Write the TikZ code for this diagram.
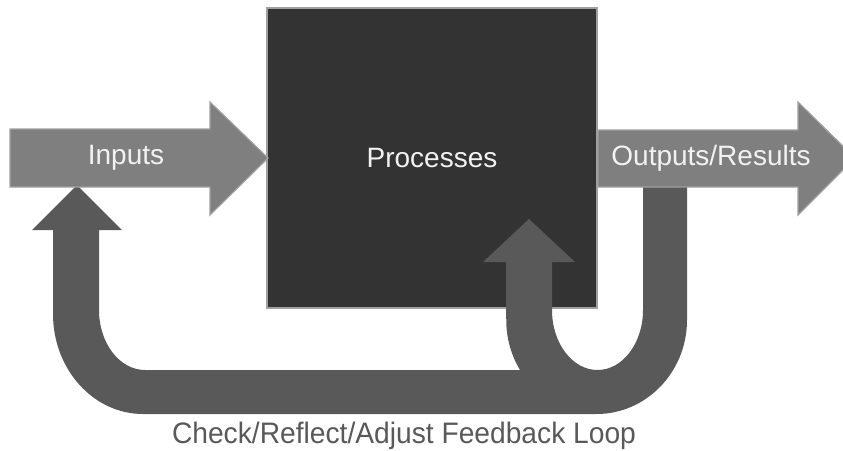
\documentclass[tikz,border=0pt]{standalone}
\usepackage{fontspec}
\setmainfont{Liberation Sans}
\usetikzlibrary{positioning}
\definecolor{boxgray}{HTML}{333333}
\definecolor{edgegray}{HTML}{A0A0A0}
\definecolor{arrgray}{HTML}{7F7F7F}
\definecolor{loopgray}{HTML}{595959}
\begin{document}
\begin{tikzpicture}[x=1pt,y=-1pt,
    block/.style={draw=edgegray,fill=boxgray,line width=1.5pt,minimum width=330pt,minimum height=300pt,inner sep=0pt},
    bigarrow/.style={draw=edgegray,fill=arrgray,line width=1.2pt,line join=miter},
    loop/.style={fill=loopgray},
    label/.style={text=white!95!black,font=\fontsize{28}{32}\selectfont,inner sep=0pt},
    caption/.style={text=loopgray,font=\fontsize{28.2}{32}\selectfont,inner sep=0pt,yscale=1.05}]
 		\clip (0,0) rectangle (843,450);
 		\node[block]        (Pr) at (432,158)  {};
 		% feedback loop
 		\path[loop] (77,185) -- (122,230) -- (99,230) -- (99,310)
 		      arc[start angle=180,end angle=90,x radius=46,y radius=60] -- (520,370)
 		      arc[start angle=148,end angle=180,x radius=90.5,y radius=94] -- (506,262)
 		      -- (483,262) -- (529,219) -- (575,262) -- (552,262) -- (552,310)
 		      arc[start angle=180,end angle=0,x radius=45.5,y radius=60] -- (643,185)
 		      -- (687,185) -- (687,320)
 		      arc[start angle=0,end angle=90,x radius=90.5,y radius=94] -- (143,414)
 		      arc[start angle=90,end angle=180,x radius=90,y radius=100] -- (53,314)
 		      -- (53,230) -- (32,230) -- cycle;
 		% inputs and outputs
 		\path[bigarrow] (10,129) -- (210,129) -- (210,102) -- (268,158)
 		      -- (210,215) -- (210,187) -- (10,187) -- cycle;
 		\path[bigarrow] (598,130) -- (798,130) -- (798,102) -- (855,158)
 		      -- (798,215) -- (798,187) -- (598,187) -- cycle;
 		\node[label]        (In)  at (126,158) {Inputs};
 		\node[label]        (P)   at (Pr)      {Processes};
 		\node[label]        (Out) at (711,158) {Outputs/Results};
 		\node[caption]      (Fb)  at (404,436) {Check/Reflect/Adjust Feedback Loop};
\end{tikzpicture}
\end{document}
